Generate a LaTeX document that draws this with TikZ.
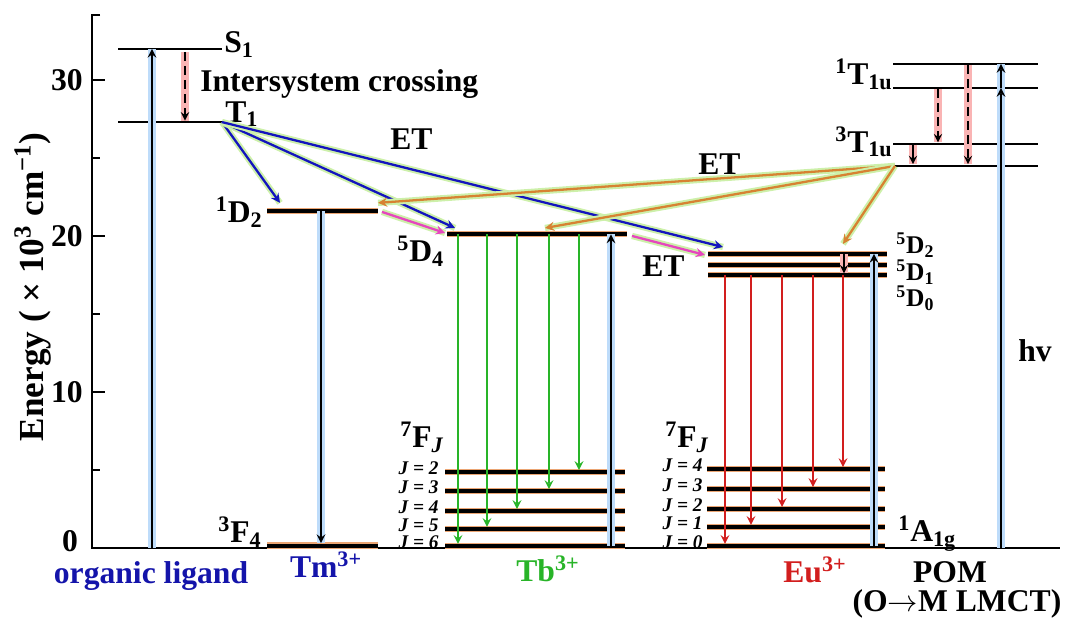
\documentclass[tikz,border=0pt]{standalone}
\usepackage{fontspec}
\setmainfont{Liberation Serif}
\usetikzlibrary{arrows}

\definecolor{etblue}{RGB}{20,20,190}
\definecolor{etorange}{RGB}{215,130,50}
\definecolor{etpink}{RGB}{230,70,190}
\definecolor{etglow}{RGB}{205,240,170}
\definecolor{tbgreen}{RGB}{40,180,40}
\definecolor{eured}{RGB}{210,30,30}
\definecolor{ligblue}{RGB}{20,20,170}
\definecolor{lvlglow}{RGB}{235,165,115}
\definecolor{pumpglow}{RGB}{190,220,250}
\definecolor{iscglow}{RGB}{250,180,180}

\tikzset{
  lvl/.style={line width=2.3pt, preaction={draw=lvlglow, line width=3.5pt}},
  thinlvl/.style={line width=1.1pt},
  pump/.style={->, line width=1.2pt, preaction={draw=pumpglow, line width=5pt, -}},
  etarr/.style={->, line width=1.3pt, preaction={draw=etglow, line width=3.6pt, -}},
  iscarr/.style={->, line width=1.1pt, dash pattern=on 5pt off 3pt, preaction={draw=iscglow, line width=5pt, -}},
  emis/.style={->, line width=1.2pt},
  lbl/.style={inner sep=0pt},
  eulbl/.style={anchor=base west, inner sep=0pt, font=\fontsize{14.5}{16}\selectfont\bfseries},
  jlbl/.style={anchor=east, inner sep=0pt, font=\fontsize{11}{12}\selectfont\bfseries\itshape},
}

\begin{document}
\begin{tikzpicture}[x=0.02cm, y=0.312cm, >=stealth, font=\fontsize{18}{20}\selectfont\bfseries]
\useasboundingbox (0,-4.487) rectangle (1072,35.128);
% axis
\draw[line width=1.1pt] (100,34.17) -- (92,34.17) -- (92,0) -- (1060,0);
\foreach \y in {10,20,30}{
  \draw[line width=1.1pt] (92,\y) -- (105,\y);
  \node[lbl, anchor=east] (tick\y) at (83,\y) {\y};
}
\foreach \y in {5,15,25} \draw[line width=1.1pt] (92,\y) -- (100,\y);
\node[lbl] (tick0) at (70,0.45) {0};
\node[lbl, rotate=90, font=\fontsize{20}{22}\selectfont\bfseries] (ylab) at (33,16.73) {Energy ( × 10\textsuperscript{3} cm\textsuperscript{−1})};

% organic ligand
\coordinate (S1a) at (118,32.0); \coordinate (S1b) at (222,32.0);
\coordinate (T1a) at (118,27.3); \coordinate (T1b) at (222,27.3);
\draw[thinlvl] (S1a) -- (S1b);
\draw[thinlvl] (T1a) -- (T1b);
\node[lbl, anchor=base west] (S1) at (224,31.73) {S\textsubscript{1}};
\node[lbl, anchor=base west] (T1) at (225,27.3) {T\textsubscript{1}};
\node[lbl, anchor=base west] (isc) at (200,29.23) {Intersystem crossing};
\coordinate (lig0) at (152,0); \coordinate (lig1) at (152,32.0);
\draw[pump] (lig0) -- (lig1);
\coordinate (isc0) at (185,31.8); \coordinate (isc1) at (185,27.4);
\draw[iscarr] (isc0) -- (isc1);

% Tm3+
\coordinate (D2a) at (267,21.6); \coordinate (D2b) at (378,21.6);
\coordinate (F4a) at (267,0.15); \coordinate (F4b) at (378,0.15);
\draw[lvl] (D2a) -- (D2b);
\draw[lvl] (F4a) -- (F4b);
\node[lbl, anchor=base east] (D2) at (263,20.83) {\textsuperscript{1}D\textsubscript{2}};
\node[lbl, anchor=base east] (F4) at (262,0.32) {\textsuperscript{3}F\textsubscript{4}};
\coordinate (tm1) at (321,21.6); \coordinate (tm0) at (321,0.3);
\draw[pump] (tm1) -- (tm0);

% Tb3+
\coordinate (D4a) at (447,20.1); \coordinate (D4b) at (627,20.1);
\draw[lvl] (D4a) -- (D4b);
\node[lbl, anchor=base west] (D4) at (397,18.33) {\textsuperscript{5}D\textsubscript{4}};
\node[lbl, anchor=base west] (tbF) at (400,6.41) {\textsuperscript{7}F\textsubscript{\itshape J}};
\foreach \j/\e in {2/4.87,3/3.65,4/2.37,5/1.22,6/0.13}{
  \draw[lvl] (445,\e) -- (625,\e);
  \node[jlbl] (tbJ\j) at (439,\e+0.25) {J = \j};
}
\foreach \x/\e in {458/0.13,487/1.22,517/2.37,549/3.65,579/4.87}
  \draw[emis, tbgreen] (\x,20.1) -- (\x,\e+0.12);
\coordinate (tb0) at (611,0.13); \coordinate (tb1) at (611,20.1);
\draw[pump] (tb0) -- (tb1);

% Eu3+
\foreach \n/\e in {2/18.85,1/18.14,0/17.5}{
  \draw[lvl] (708,\e) -- (887,\e);
}
\node[eulbl] (D2eu) at (896,18.85) {\textsuperscript{5}D\textsubscript{2}};
\node[eulbl] (D1eu) at (896,17.15) {\textsuperscript{5}D\textsubscript{1}};
\node[eulbl] (D0eu) at (896,15.45) {\textsuperscript{5}D\textsubscript{0}};
\node[lbl, anchor=base west] (euF) at (665,6.41) {\textsuperscript{7}F\textsubscript{\itshape J}};
\foreach \j/\e in {4/5.06,3/3.78,2/2.5,1/1.35,0/0.13}{
  \draw[lvl] (707,\e) -- (885,\e);
  \node[jlbl] (euJ\j) at (703,\e+0.25) {J = \j};
}
\foreach \x/\e in {725/0.13,751/1.35,782/2.5,813/3.78,843/5.06}
  \draw[emis, eured] (\x,17.5) -- (\x,\e+0.12);
\coordinate (eu0) at (874,0.13); \coordinate (eu1) at (874,18.85);
\draw[pump] (eu0) -- (eu1);
\coordinate (eur0) at (844,18.85); \coordinate (eur1) at (844,17.6);
\draw[iscarr, solid] (eur0) -- (eur1);

% POM
\foreach \e in {31.03,29.49,25.9,24.49} \draw[thinlvl] (893,\e) -- (1038,\e);
\node[lbl, anchor=base east] (T1u) at (893,29.68) {\textsuperscript{1}T\textsubscript{1u}};
\node[lbl, anchor=base east] (T3u) at (893,25.38) {\textsuperscript{3}T\textsubscript{1u}};
\node[lbl, anchor=base west] (A1g) at (898,0.38) {\textsuperscript{1}A\textsubscript{1g}};
\node[lbl, anchor=base west] (hv) at (1018,11.92) {hv};
\coordinate (pom0) at (1001,0); \coordinate (pom1) at (1001,29.49); \coordinate (pom2) at (1001,31.03);
\draw[pump] (pom0) -- (pom1);
\draw[pump] (pom1) -- (pom2);
\coordinate (pa0) at (938,29.4); \coordinate (pa1) at (938,26.0);
\coordinate (pb0) at (968,30.95); \coordinate (pb1) at (968,24.6);
\coordinate (pc0) at (913,25.85); \coordinate (pc1) at (913,24.6);
\draw[iscarr] (pa0) -- (pa1);
\draw[iscarr] (pb0) -- (pb1);
\draw[iscarr, solid] (pc0) -- (pc1);

% energy transfer
\coordinate (etO) at (895,24.49);
\draw[etarr, etblue] (T1b) -- (280,22.12);
\draw[etarr, etblue] (T1b) -- (455,20.51);
\draw[etarr, etblue] (T1b) -- (723,19.29);
\draw[etarr, etorange] (etO) -- (378,22.12);
\draw[etarr, etorange] (etO) -- (545,20.51);
\draw[etarr, etorange] (etO) -- (843,19.49);
\draw[etarr, etpink] (382,21.54) -- (445,20.19);
\draw[etarr, etpink] (632,20.0) -- (705,18.78);
\node[lbl, anchor=base west] (et1) at (390,25.51) {ET};
\node[lbl, anchor=base west] (et2) at (698,23.91) {ET};
\node[lbl, anchor=base west] (et3) at (642,17.37) {ET};

% bottom labels
\node[lbl, anchor=base, ligblue] (lig) at (151,-2.3) {organic ligand};
\node[lbl, anchor=base, ligblue] (tm) at (326,-1.92) {Tm\textsuperscript{3+}};
\node[lbl, anchor=base, tbgreen] (tb) at (548,-2.18) {Tb\textsuperscript{3+}};
\node[lbl, anchor=base, eured] (eu) at (815,-2.24) {Eu\textsuperscript{3+}};
\node[lbl, anchor=base] (pom) at (950,-2.24) {POM};
\node[lbl, anchor=base] (lmct) at (957,-4.1) {(O$\rightarrow$M LMCT)};
\end{tikzpicture}
\end{document}
